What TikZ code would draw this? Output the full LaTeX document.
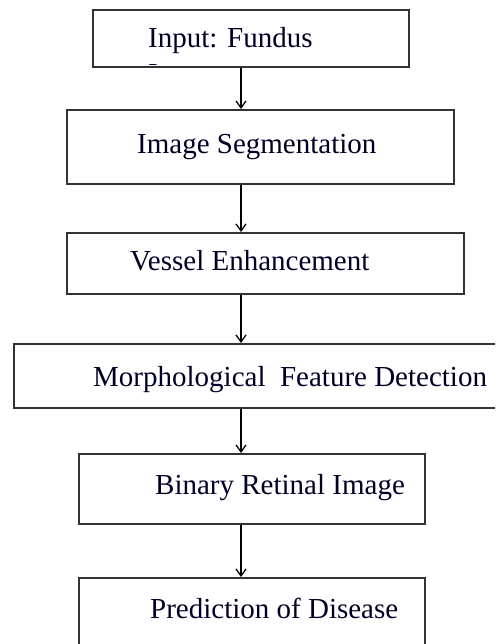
\documentclass[tikz,border=0pt]{standalone}
\usepackage{fontspec}
\setmainfont{Liberation Serif}
\usetikzlibrary{arrows.meta}
\begin{document}
\begin{tikzpicture}[x=1pt,y=-1pt,
  box/.style={draw=black!80, line width=1.6pt, rectangle, inner sep=0pt, anchor=north west},
  lbl/.style={anchor=base west, inner sep=0pt, font=\fontsize{29}{34}\selectfont, text=black!85!blue},
  arr/.style={line width=1.3pt, -{Straight Barb[length=7pt,width=10pt,line width=1.3pt]}}]
\useasboundingbox (0,0) rectangle (495,644);
\clip (0,0) rectangle (495,644);
\node[box, minimum width=316pt, minimum height=57pt] (b1) at (92,9) {};
\node[box, minimum width=387pt, minimum height=74pt] (b2) at (66,109) {};
\node[box, minimum width=397pt, minimum height=61pt] (b3) at (66,232) {};
\node[box, minimum width=500pt, minimum height=64pt] (b4) at (13,343) {};
\node[box, minimum width=346pt, minimum height=70pt] (b5) at (78,453) {};
\node[box, minimum width=346pt, minimum height=90pt] (b6) at (78,577) {};
\coordinate (ax) at (241,0);
\node[lbl] (t1) at (148,48) {Input: Fundus};
\begin{scope}
\clip (93,10) rectangle (407,65);
\node[lbl] (t1b) at (148,84) {Image};
\end{scope}
\node[lbl] (t2) at (137,154) {Image Segmentation};
\node[lbl] (t3) at (130,270) {Vessel Enhancement};
\node[lbl] (t4) at (93,386) {Morphological\ \ Feature Detection};
\node[lbl] (t5) at (155,494) {Binary Retinal Image};
\node[lbl] (t6) at (150,618) {Prediction of Disease};
\draw[arr] (b1.south -| ax) -- (b2.north -| ax);
\draw[arr] (b2.south -| ax) -- (b3.north -| ax);
\draw[arr] (b3.south -| ax) -- (b4.north -| ax);
\draw[arr] (b4.south -| ax) -- (b5.north -| ax);
\draw[arr] (b5.south -| ax) -- (b6.north -| ax);
\end{tikzpicture}
\end{document}
